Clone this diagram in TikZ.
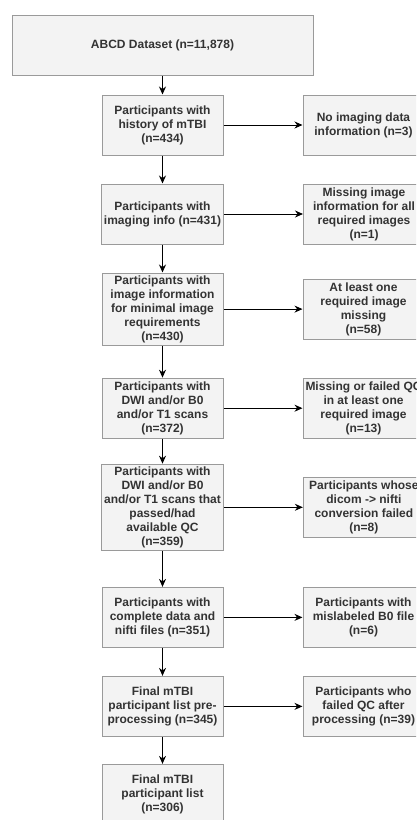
\documentclass[tikz,border=0pt]{standalone}
\usepackage{fontspec}
\setmainfont{Liberation Sans}
\usetikzlibrary{arrows.meta,positioning}
\definecolor{boxfill}{HTML}{F3F3F3}
\definecolor{boxline}{HTML}{9A9A9A}
\definecolor{boxtext}{HTML}{333333}

\begin{document}
\begin{tikzpicture}[
node distance=28pt and 79pt,
block/.style={draw=boxline,fill=boxfill,line width=1pt,align=center,minimum height=60pt,minimum width=121pt,inner sep=2.5pt,font=\fontsize{12}{14}\selectfont\bfseries,text=boxtext},
wide/.style={block,minimum width=301pt},
arrow/.style={-{Stealth[length=8pt,width=7pt]},line width=1pt}
]
\path[use as bounding box,clip] (0,0) rectangle (416pt,-820pt);
\node[wide] (abcd) at (162.5pt,-45pt) {ABCD Dataset (n=11,878)};
\node[block,below=19pt of abcd] (mtbi) {Participants with\\history of mTBI\\(n=434)};
\node[block,below=of mtbi] (info) {Participants with\\imaging info (n=431)};
\node[block,below=of info] (minimal) {Participants with\\image information\\for minimal image\\requirements\\(n=430)};
\node[block,below=32pt of minimal] (scans) {Participants with\\DWI and/or B0\\and/or T1 scans\\(n=372)};
\node[block,below=25pt of scans] (passed) {Participants with\\DWI and/or B0\\and/or T1 scans that\\passed/had\\available QC\\(n=359)};
\node[block,below=36pt of passed] (nifti) {Participants with\\complete data and\\nifti files (n=351)};
\node[block,below=of nifti] (prefinal) {Final mTBI\\participant list pre-\\processing (n=345)};
\node[block,below=27pt of prefinal] (final) {Final mTBI\\participant list\\(n=306)};
% exclusions
\node[block,right=of mtbi] (noimg) {No imaging data\\information (n=3)};
\node[block,right=of info] (missinfo) {Missing image\\information for all\\required images\\(n=1)};
\node[block,right=of minimal] (onemiss) {At least one\\required image\\missing\\(n=58)};
\node[block,right=of scans] (failqc) {Missing or failed QC\\in at least one\\required image\\(n=13)};
\node[block,right=of passed] (conv) {Participants whose\\dicom -> nifti\\conversion failed\\(n=8)};
\node[block,right=of nifti] (mislab) {Participants with\\mislabeled B0 file\\(n=6)};
\node[block,right=of prefinal] (postqc) {Participants who\\failed QC after\\processing (n=39)};
\draw[arrow] (abcd) -- (mtbi);
\draw[arrow] (mtbi) -- (info);
\draw[arrow] (info) -- (minimal);
\draw[arrow] (minimal) -- (scans);
\draw[arrow] (scans) -- (passed);
\draw[arrow] (passed) -- (nifti);
\draw[arrow] (nifti) -- (prefinal);
\draw[arrow] (prefinal) -- (final);
\draw[arrow] (mtbi) -- (noimg);
\draw[arrow] (info) -- (missinfo);
\draw[arrow] (minimal) -- (onemiss);
\draw[arrow] (scans) -- (failqc);
\draw[arrow] (passed) -- (conv);
\draw[arrow] (nifti) -- (mislab);
\draw[arrow] (prefinal) -- (postqc);
\end{tikzpicture}
\end{document}
